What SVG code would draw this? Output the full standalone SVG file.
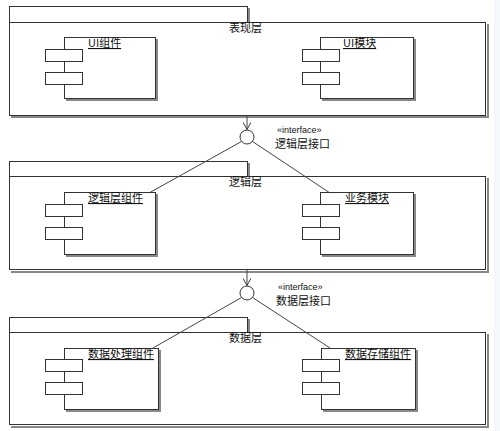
<svg xmlns="http://www.w3.org/2000/svg" width="500" height="431" viewBox="0 0 500 431">
<style>
.ln{fill:#fff;stroke:#333;stroke-width:1}
.sh{fill:none;stroke:#888;stroke-width:2}
.t{font-family:"Noto Sans CJK SC","Liberation Sans",sans-serif;font-size:11px;fill:#111}
.u{text-decoration:underline}
.st{font-family:"Liberation Sans",sans-serif;font-size:9px;fill:#111}
.c{stroke:#444;stroke-width:1;fill:none}
</style>
<defs>
<marker id="open" viewBox="0 0 10 10" refX="9" refY="5" markerWidth="8" markerHeight="8" orient="auto" markerUnits="userSpaceOnUse">
<path d="M0,0 L9,5 L0,10" fill="none" stroke="#333" stroke-width="1.2"/>
</marker>
</defs>
<rect width="500" height="431" fill="#fff"/>
<rect x="494" y="0" width="6" height="431" fill="#f4f8fc"/>

<g id="pkg-presentation">
<path class="sh" d="M249,8 V23 M488,24 V117 H11"/>
<rect class="ln" x="9.5" y="6.5" width="238" height="16"/>
<rect class="ln" x="9.5" y="22.5" width="476" height="93"/>
<text class="t" x="229" y="32">表现层</text>
</g>
<g id="cmp-ui-component">
<path class="sh" d="M157,39 V100 H66"/>
<rect class="ln" x="64.5" y="37.5" width="91" height="61"/>
<rect class="ln" x="45.5" y="49.5" width="37" height="12"/>
<rect class="ln" x="45.5" y="72.5" width="37" height="12"/>
<text class="t u" x="88" y="47">UI组件</text>
</g>
<g id="cmp-ui-module">
<path class="sh" d="M415,39 V100 H322"/>
<rect class="ln" x="320.5" y="37.5" width="93" height="61"/>
<rect class="ln" x="302.5" y="49.5" width="37" height="12"/>
<rect class="ln" x="302.5" y="72.5" width="37" height="12"/>
<text class="t u" x="343" y="47">UI模块</text>
</g>

<g id="if-logic">
<circle class="ln" cx="247" cy="137" r="7"/>
<text class="st" x="277" y="133">«interface»</text>
<text class="t" x="275" y="148">逻辑层接口</text>
</g>

<g id="pkg-logic">
<path class="sh" d="M249,163 V177 M488,178 V272 H11"/>
<rect class="ln" x="9.5" y="161.5" width="238" height="15"/>
<rect class="ln" x="9.5" y="176.5" width="476" height="93"/>
<text class="t" x="229" y="186">逻辑层</text>
</g>
<g id="cmp-logic-component">
<path class="sh" d="M157,194 V256 H66"/>
<rect class="ln" x="64.5" y="192.5" width="91" height="62"/>
<rect class="ln" x="45.5" y="204.5" width="37" height="12"/>
<rect class="ln" x="45.5" y="227.5" width="37" height="12"/>
<text class="t u" x="88" y="202">逻辑层组件</text>
</g>
<g id="cmp-business">
<path class="sh" d="M415,194 V256 H322"/>
<rect class="ln" x="320.5" y="192.5" width="93" height="62"/>
<rect class="ln" x="302.5" y="204.5" width="37" height="12"/>
<rect class="ln" x="302.5" y="227.5" width="37" height="12"/>
<text class="t u" x="345" y="202">业务模块</text>
</g>

<g id="if-data">
<circle class="ln" cx="247" cy="293" r="7"/>
<text class="st" x="278" y="290">«interface»</text>
<text class="t" x="276" y="305">数据层接口</text>
</g>

<g id="pkg-data">
<path class="sh" d="M249,319 V333 M488,334 V427 H11"/>
<rect class="ln" x="9.5" y="317.5" width="238" height="15"/>
<rect class="ln" x="9.5" y="332.5" width="476" height="92"/>
<text class="t" x="229" y="342">数据层</text>
</g>
<g id="cmp-data-process">
<path class="sh" d="M160,350 V411 H66"/>
<rect class="ln" x="64.5" y="348.5" width="94" height="61"/>
<rect class="ln" x="45.5" y="359.5" width="37" height="12"/>
<rect class="ln" x="45.5" y="382.5" width="37" height="12"/>
<text class="t u" x="88" y="358">数据处理组件</text>
</g>
<g id="cmp-data-store">
<path class="sh" d="M417,350 V411 H323"/>
<rect class="ln" x="321.5" y="348.5" width="94" height="61"/>
<rect class="ln" x="302.5" y="359.5" width="37" height="12"/>
<rect class="ln" x="302.5" y="382.5" width="37" height="12"/>
<text class="t u" x="345" y="358">数据存储组件</text>
</g>

<g id="connectors">
<line class="c" x1="247" y1="116" x2="247" y2="129.5" marker-end="url(#open)"/>
<line class="c" x1="241.5" y1="141.5" x2="149" y2="193"/>
<line class="c" x1="252.5" y1="141.5" x2="330" y2="193"/>
<line class="c" x1="247" y1="270" x2="247" y2="285.5" marker-end="url(#open)"/>
<line class="c" x1="241.5" y1="297.5" x2="153" y2="348"/>
<line class="c" x1="252.5" y1="297.5" x2="330" y2="348"/>
</g>
</svg>
